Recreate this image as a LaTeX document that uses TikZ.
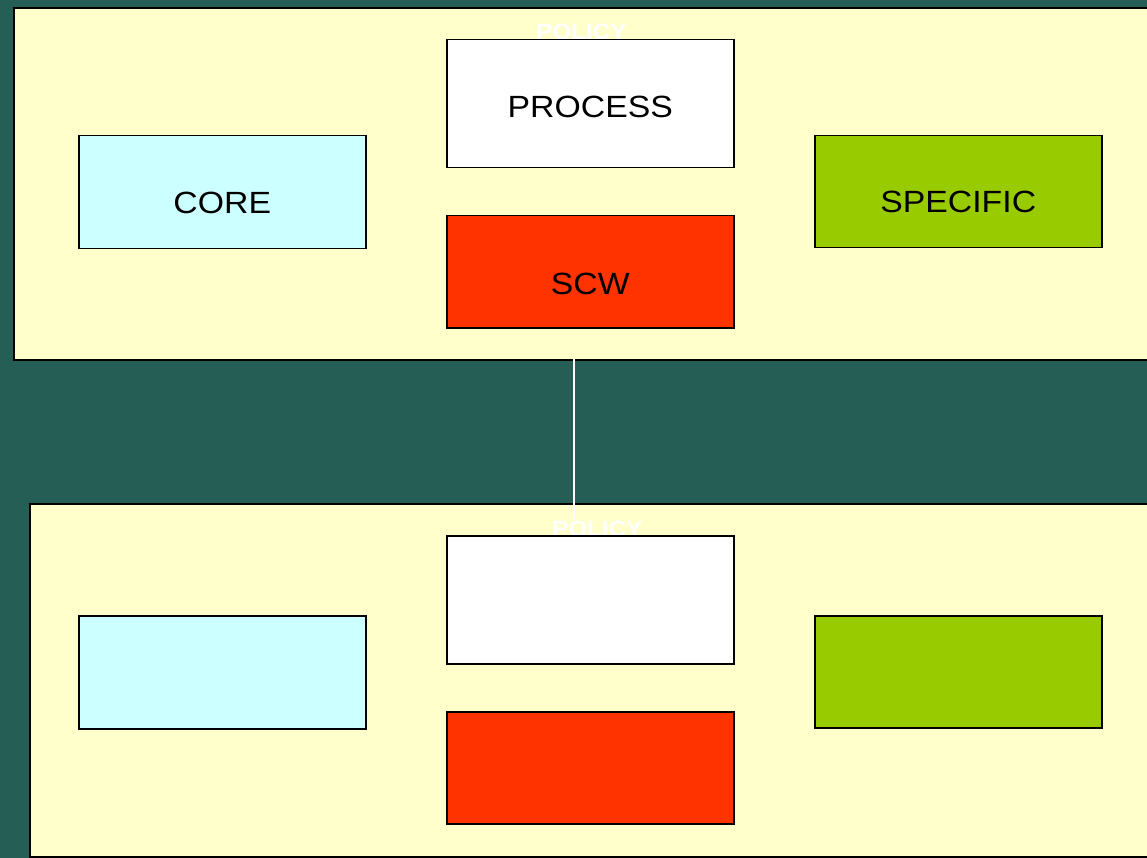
\documentclass[tikz,border=0pt]{standalone}
\usepackage{fontspec}
\setmainfont{Liberation Sans}[FakeStretch=1.1]
\definecolor{bg}{HTML}{245E55}
\definecolor{frame}{HTML}{FFFFCC}
\definecolor{corec}{HTML}{CCFFFF}
\definecolor{specc}{HTML}{99CC00}
\definecolor{scwc}{HTML}{FF3300}
\tikzset{
  framebox/.style={draw=black, line width=2pt, fill=frame, anchor=north west, inner sep=0pt},
  block/.style={draw=black, line width=1.5pt, anchor=north west, inner sep=0pt, minimum width=287pt},
  blocktext/.style={font=\fontsize{30.7}{32}\selectfont, text=black, inner sep=0pt},
  policy/.style={font=\fontsize{22}{24}\selectfont\bfseries, text=white, inner sep=0pt, anchor=base},
}
\begin{document}
\begin{tikzpicture}[x=1pt, y=-1pt]
\useasboundingbox (0,0) rectangle (1147,858);
\clip (0,0) rectangle (1147,858);
\fill[bg] (0,0) rectangle (1147,858);
% frames
\node[framebox, minimum width=1200pt, minimum height=352pt] (f1) at (13,7) {};
\node[framebox, minimum width=1200pt, minimum height=353pt] (f2) at (29,503) {};
% policy labels
\node[policy] (p1) at (581.5,40) {POLICY};
\node[policy] (p2) at (597.5,536) {POLICY};
% top blocks
\node[block, fill=white, minimum height=128pt] (proc) at (446,39) {};
\node[block, fill=corec, minimum height=113pt] (core) at (78,135) {};
\node[block, fill=specc, minimum height=112pt] (spec) at (814,135) {};
\node[block, fill=scwc, minimum height=112pt] (scw) at (446,215) {};
\node[blocktext] (tproc) at ([yshift=-3]proc.center) {PROCESS};
\node[blocktext] (tcore) at ([yshift=-10.5]core.center) {CORE};
\node[blocktext] (tspec) at ([yshift=-10.5]spec.center) {SPECIFIC};
\node[blocktext] (tscw) at ([yshift=-12]scw.center) {SCW};
% bottom blocks
\node[block, fill=white, minimum height=128pt] (proc2) at (446,535) {};
\node[block, fill=corec, minimum height=113pt] (core2) at (78,615) {};
\node[block, fill=specc, minimum height=112pt] (spec2) at (814,615) {};
\node[block, fill=scwc, minimum height=112pt] (scw2) at (446,711) {};
% connector
\coordinate (c1) at (574,359);
\coordinate (c2) at (574,519);
\draw[white, line width=1.5pt] (c1) -- (c2);
\end{tikzpicture}
\end{document}
